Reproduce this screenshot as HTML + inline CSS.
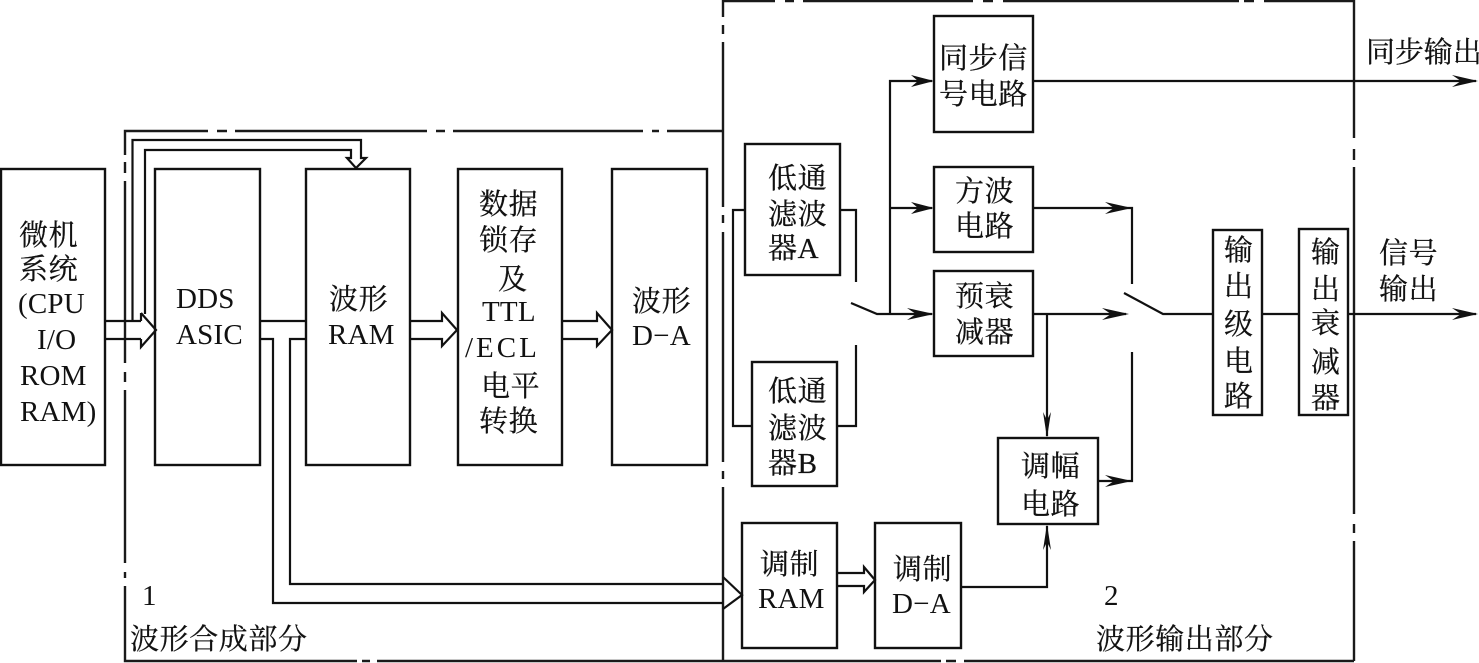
<!DOCTYPE html>
<html lang="zh">
<head>
<meta charset="utf-8">
<title>波形合成与输出框图</title>
<style>
html,body{margin:0;padding:0;background:#fff;width:1479px;height:663px;overflow:hidden}
svg{display:block}
.b{fill:#fff;stroke:#111;stroke-width:2.4}
.l{fill:none;stroke:#111;stroke-width:2.2;stroke-linejoin:miter}
.f{fill:none;stroke:#1a1a1a;stroke-width:2.4}
.a{fill:#111;stroke:none}
text{font-family:"Liberation Serif","Noto Serif CJK SC",serif;font-size:29px;fill:#111;letter-spacing:.2px}
.c{letter-spacing:.6px;stroke:#111;stroke-width:.25}
</style>
</head>
<body>
<svg width="1479" height="663" viewBox="0 0 1479 663" xmlns="http://www.w3.org/2000/svg">
<rect width="1479" height="663" fill="#fff"/>

<!-- frame 1 -->
<path class="f" d="M125 155V131H208M217 131H227M235 131H427M436 131H445M453 131H643M652 131H659M667 131H723"/>
<path class="f" d="M125 162V173M125 181V363M125 372V382M125 390V563M125 572V578M125 586V661H357M362 661H370M377 661H941M946 661H956M964 661H1354"/>
<!-- frame 2 -->
<path class="f" d="M723 17V1H775M785 1H794M803 1H973M983 1H993M1003 1H1239M1244 1H1254M1264 1H1354V138M1354 149V160M1354 167V514M1354 524V533M1354 541V661"/>
<path class="f" d="M723 25V34M723 42V207M723 215V223M723 232V462M723 471V479M723 487V661"/>

<!-- boxes -->
<rect class="b" x="1" y="169" width="104" height="296"/>
<rect class="b" x="155" y="169" width="105" height="296"/>
<rect class="b" x="306" y="169" width="104" height="296"/>
<rect class="b" x="458" y="169" width="104" height="296"/>
<rect class="b" x="612" y="169" width="95" height="296"/>
<rect class="b" x="745" y="144" width="95" height="131"/>
<rect class="b" x="752" y="362" width="85" height="124"/>
<rect class="b" x="934" y="16" width="99" height="116"/>
<rect class="b" x="934" y="167" width="99" height="85"/>
<rect class="b" x="934" y="271" width="99" height="85"/>
<rect class="b" x="998" y="438" width="100" height="86"/>
<rect class="b" x="742" y="523" width="95" height="125"/>
<rect class="b" x="875" y="523" width="86" height="125"/>
<rect class="b" x="1213" y="230" width="49" height="185"/>
<rect class="b" x="1299" y="229" width="49" height="186"/>

<!-- hollow bus arrows -->
<path class="l" d="M105 321H141M105 339H141M141 313L156 330L141 347V339M141 321V313"/>
<path class="l" d="M132.500 321V140H361V158H366L356 168L347 158H351V150H145V314"/>
<path class="l" d="M410 321H442V313L457 330L442 346V339H410"/>
<path class="l" d="M562 321H597V313L612 330L597 346V339H562"/>
<path class="l" d="M260 321H306"/>
<path class="l" d="M260 339H273V603H723M306 339H290V584H723M723 577L742 595L723 609"/>
<path class="l" d="M837 573H864V567L875 580L864 592V586H837"/>

<!-- filter wiring and switch 1 -->
<path class="l" d="M745 210H733V426H752"/>
<path class="l" d="M840 210H856V282"/>
<path class="l" d="M837 426H856V345"/>
<path class="l" d="M851 303L877 314H932"/>
<path class="l" d="M890 314V81H932"/>
<path class="l" d="M890 208H932"/>
<path class="a" d="M934 81L911 75L918 81L911 87Z"/>
<path class="a" d="M934 208L911 202L918 208L911 214Z"/>
<path class="a" d="M934 314L907 308L916 314L907 320Z"/>

<!-- signal lines right side -->
<path class="l" d="M1033 81H1476"/>
<path class="a" d="M1478 81L1452 75L1461 81L1452 87Z"/>
<path class="l" d="M1033 208H1132V284"/>
<path class="a" d="M1132 208L1105 202L1114 208L1105 214Z"/>
<path class="l" d="M1033 314H1126"/>
<path class="a" d="M1129 314L1102 308L1111 314L1102 320Z"/>
<path class="l" d="M1047 314V436"/>
<path class="a" d="M1047 438L1043 412L1047 420L1051 412Z"/>
<path class="l" d="M1132 352V481H1098"/>
<path class="a" d="M1132 481L1105 475L1114 481L1105 487Z"/>
<path class="l" d="M1124 293L1163 314H1213"/>
<path class="l" d="M1262 314H1299"/>
<path class="l" d="M1348 314H1476"/>
<path class="a" d="M1478 314L1452 308L1461 314L1452 320Z"/>
<path class="l" d="M961 587H1047V526"/>
<path class="a" d="M1047 524L1043 550L1047 542L1051 550Z"/>

<!-- labels -->
<text class="c" x="19" y="245">微机</text>
<text class="c" x="19" y="279">系统</text>
<text x="18" y="313">(CPU</text>
<text x="37" y="349">I/O</text>
<text x="20" y="385">ROM</text>
<text x="20" y="421">RAM)</text>

<text x="176" y="308">DDS</text>
<text x="176" y="344">ASIC</text>

<text class="c" x="329" y="309">波形</text>
<text x="328" y="344">RAM</text>

<text class="c" x="479" y="214">数据</text>
<text class="c" x="479" y="250">锁存</text>
<text class="c" x="498" y="289">及</text>
<text x="482" y="321">TTL</text>
<text x="465" y="357" style="letter-spacing:3px">/ECL</text>
<text class="c" x="481" y="396">电平</text>
<text class="c" x="479" y="431">转换</text>

<text class="c" x="632" y="311">波形</text>
<text x="632" y="345">D−A</text>

<text class="c" x="768" y="188">低通</text>
<text class="c" x="768" y="224">滤波</text>
<text class="c" x="768" y="258">器A</text>

<text class="c" x="768" y="401">低通</text>
<text class="c" x="768" y="438">滤波</text>
<text class="c" x="768" y="473">器B</text>

<text class="c" x="939" y="68">同步信</text>
<text class="c" x="939" y="104">号电路</text>
<text class="c" x="955" y="201">方波</text>
<text class="c" x="955" y="236">电路</text>
<text class="c" x="955" y="306">预衰</text>
<text class="c" x="955" y="342">减器</text>
<text class="c" x="1021" y="476">调幅</text>
<text class="c" x="1021" y="514">电路</text>

<text class="c" x="760" y="574">调制</text>
<text x="758" y="608">RAM</text>
<text class="c" x="893" y="579">调制</text>
<text x="892" y="613">D−A</text>

<text class="c" x="1224" y="260">输</text>
<text class="c" x="1224" y="296">出</text>
<text class="c" x="1224" y="334">级</text>
<text class="c" x="1224" y="371">电</text>
<text class="c" x="1224" y="406">路</text>

<text class="c" x="1311" y="262">输</text>
<text class="c" x="1311" y="299">出</text>
<text class="c" x="1311" y="333">衰</text>
<text class="c" x="1311" y="372">减</text>
<text class="c" x="1311" y="408">器</text>

<text class="c" x="1379" y="263">信号</text>
<text class="c" x="1379" y="299">输出</text>
<text class="c" x="1366" y="62" style="letter-spacing:-.1px">同步输出</text>

<text x="142" y="605">1</text>
<text x="1104" y="605">2</text>
<text class="c" x="130" y="649">波形合成部分</text>
<text class="c" x="1096" y="649">波形输出部分</text>
</svg>
</body>
</html>
